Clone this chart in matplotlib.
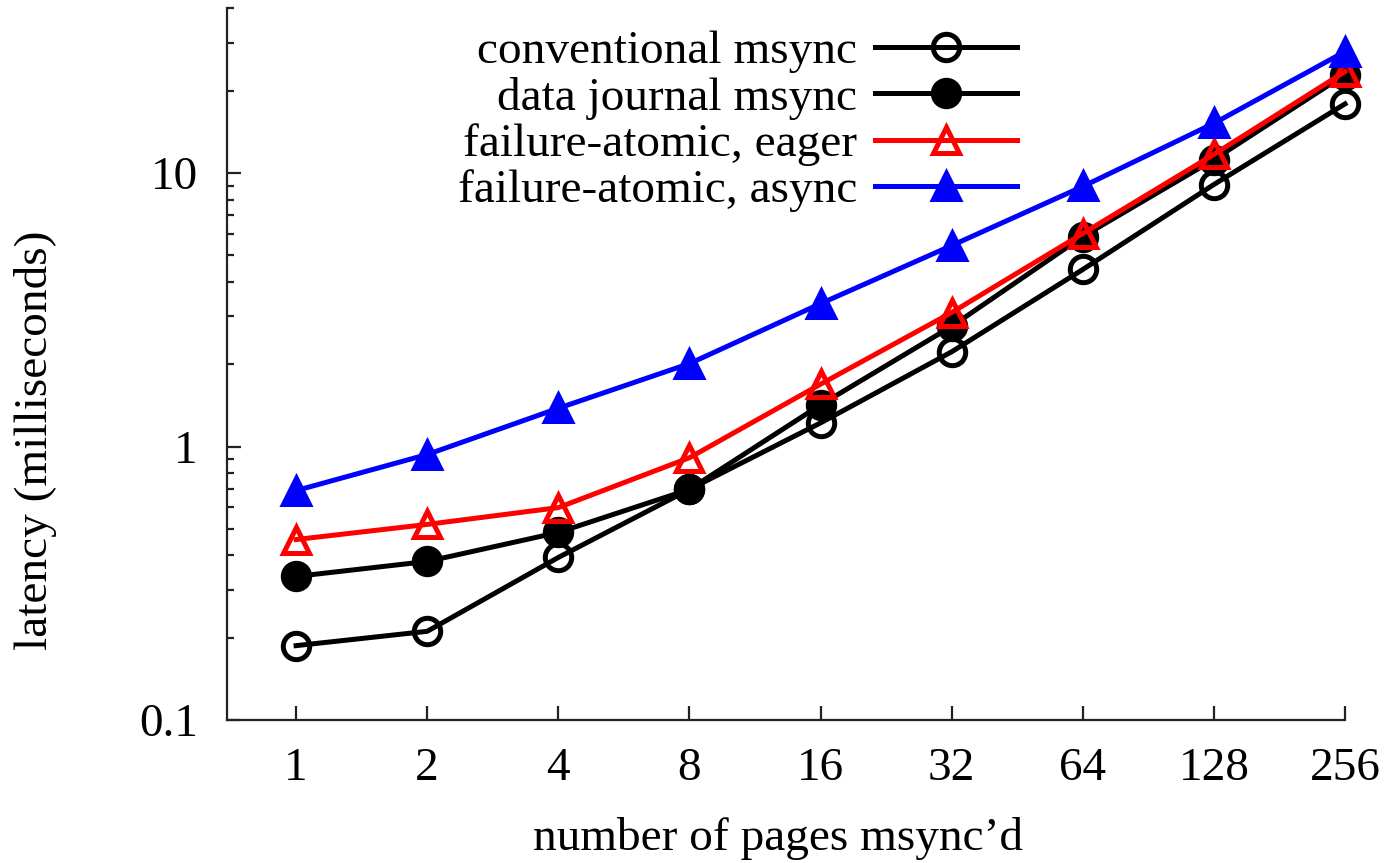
import matplotlib
matplotlib.use("Agg")
import matplotlib.pyplot as plt
from matplotlib.lines import Line2D
from matplotlib.ticker import FixedLocator, NullFormatter, LogLocator, FixedFormatter

plt.rcParams['font.family'] = ['Liberation Serif', 'DejaVu Serif']

pages = [1, 2, 4, 8, 16, 32, 64, 128, 256]
page_labels = ["1", "2", "4", "8", "16", "32", "64", "128", "256"]
conventional = [0.187, 0.211, 0.393, 0.697, 1.22, 2.22, 4.44, 9.08, 17.9]
data_journal = [0.335, 0.38, 0.485, 0.697, 1.42, 2.75, 5.86, 11.2, 22.9]
fa_eager = [0.457, 0.519, 0.598, 0.91, 1.69, 3.09, 6.01, 11.7, 23.5]
fa_async = [0.69, 0.935, 1.38, 2.01, 3.33, 5.43, 8.93, 15.2, 27.8]
series_labels = ["conventional msync", "data journal msync",
                 "failure-atomic, eager", "failure-atomic, async"]
y_ticks = [0.1, 1, 10]
y_tick_labels = ["0.1", "1", "10"]

W, H = 1390, 863
fig = plt.figure(figsize=(W / 100, H / 100), dpi=100)
ax = fig.add_axes([227 / W, 1 - 720 / H, (1345 - 227) / W, (720 - 8.4) / H])

lw = 3.6
ms = 19
mew = 3.6
styles = [
    dict(color='black', marker='o', mfc='none', mec='black'),
    dict(color='black', marker='o', mfc='black', mec='black'),
    dict(color='red', marker='^', mfc='none', mec='red'),
    dict(color='blue', marker='^', mfc='blue', mec='blue'),
]
series = [conventional, data_journal, fa_eager, fa_async]
for vals, st, lab in zip(series, styles, series_labels):
    ax.plot(pages, vals, lw=lw, ms=ms, mew=mew, clip_on=False, label=lab,
            zorder=3, **st)

ax.set_xscale('log', base=2)
ax.set_yscale('log')
ax.set_xlim(2 ** -0.527, 256)
ax.set_ylim(0.1, 40)

ax.xaxis.set_major_locator(FixedLocator(pages))
ax.xaxis.set_major_formatter(FixedFormatter(page_labels))
ax.xaxis.set_minor_locator(FixedLocator([]))
ax.yaxis.set_major_locator(FixedLocator(y_ticks))
ax.yaxis.set_major_formatter(FixedFormatter(y_tick_labels))
ax.yaxis.set_minor_locator(LogLocator(base=10, subs=range(2, 10)))
ax.yaxis.set_minor_formatter(NullFormatter())

for s in ['top', 'right']:
    ax.spines[s].set_visible(False)
for s in ['left', 'bottom']:
    ax.spines[s].set_linewidth(1.6)
    ax.spines[s].set_color('#222222')

ax.tick_params(axis='both', which='major', direction='in', length=10, width=1.6,
               labelsize=34, color='#222222')
ax.tick_params(axis='both', which='minor', direction='in', length=5, width=1.6,
               color='#222222')
ax.tick_params(axis='x', which='major', pad=20)
ax.tick_params(axis='y', which='major', pad=21)

ax.set_xlabel("number of pages msync\u2019d", fontsize=34, va='center')
ax.xaxis.set_label_coords((778 - 227) / (1345 - 227), -(838 - 720) / (720 - 8.4))
ax.set_ylabel("latency (milliseconds)", fontsize=34, va='center')
ax.yaxis.set_label_coords(-(227 - 35) / (1345 - 227), (720 - 440) / (720 - 8.4))

# Legend drawn manually: labels right-aligned, handles on the right
row_y = [47, 93, 140, 186]
text_right = 857
line_x0, line_x1 = 875, 1017
for yy, st, lab in zip(row_y, styles, series_labels):
    fy = 1 - yy / H
    fig.text(text_right / W, fy, lab, ha='right', va='center_baseline', fontsize=34)
    fig.add_artist(Line2D([line_x0 / W, line_x1 / W], [fy, fy], lw=lw,
                          color=st['color'], transform=fig.transFigure))
    fig.add_artist(Line2D([(line_x0 + line_x1) / 2 / W], [fy], lw=0,
                          marker=st['marker'], mfc=st['mfc'], mec=st['mec'],
                          ms=ms, mew=mew, transform=fig.transFigure))

fig.savefig("out.png", dpi=100)
